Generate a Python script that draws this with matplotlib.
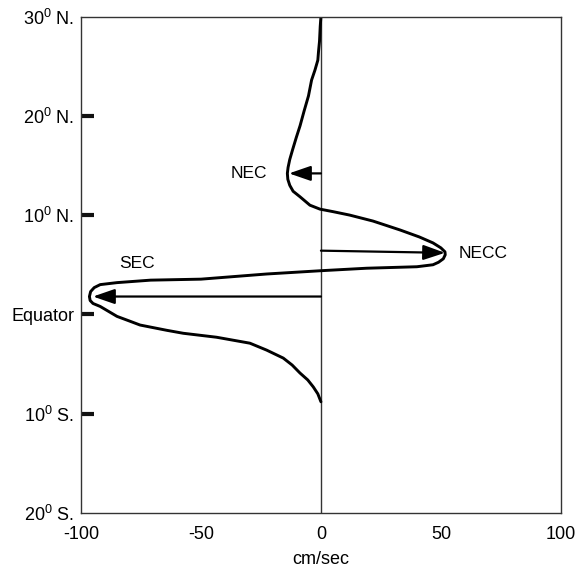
import matplotlib.pyplot as plt

plt.rcParams['font.family'] = ['Liberation Sans', 'DejaVu Sans']
plt.rcParams['mathtext.fontset'] = 'custom'
plt.rcParams['mathtext.rm'] = 'Liberation Sans'

# Zonal current speed (cm/sec) against latitude (deg, + north)
speed = [0, -0.3, -0.6, -1.0, -1.3, -2.5, -3.9, -5.2, -7, -8.7, -10.3, -11.8,
         -13, -13.7, -14, -13.8, -13, -11.6, -8.75, -4.6,
         -0.4, 5, 12, 21.7, 33, 41, 46.7, 50, 51.7, 51.8, 51, 49, 46.7, 40, 19, 0,
         -22.6, -50, -71, -85, -92, -94.5, -96, -96.5, -96.2, -95, -92, -88.5,
         -85, -80, -75.4, -64.3, -57.4, -43.5, -29.6, -22.6, -15.7, -12, -8.75,
         -5.5, -3.2, -1.3, 0]
lat = [30, 29, 27.5, 26.5, 25.6, 24.6, 23.6, 22, 20.5, 19, 17.8, 16.6,
       15.6, 14.8, 14.2, 13.6, 13.0, 12.4, 11.85, 11.0,
       10.6, 10.35, 10.0, 9.4, 8.5, 7.8, 7.2, 6.7, 6.3, 6.0, 5.6, 5.25, 5.0, 4.8, 4.65, 4.4,
       4.07, 3.55, 3.45, 3.2, 3.0, 2.7, 2.3, 1.8, 1.4, 1.1, 0.8, 0.3,
       -0.2, -0.65, -1.07, -1.6, -1.9, -2.3, -2.9, -3.6, -4.4, -5.1, -5.9,
       -6.6, -7.3, -8.0, -8.8]

# Current labels: name, arrow start, arrow tip, label position
currents = ['NEC', 'NECC', 'SEC']
arrow_start = [(0, 14.2), (0, 6.42), (0, 1.8)]
arrow_tip = [(-13.3, 14.2), (51.7, 6.2), (-95, 1.8)]
label_pos = [(-30, 14.2), (67.4, 6.15), (-76.8, 5.1)]

x_ticks = [-100, -50, 0, 50, 100]
x_labels = ['-100', '-50', '0', '50', '100']
y_ticks = [30, 20, 10, 0, -10, -20]
y_labels = [r'$\mathregular{30^0}$ N.', r'$\mathregular{20^0}$ N.',
            r'$\mathregular{10^0}$ N.', 'Equator',
            r'$\mathregular{10^0}$ S.', r'$\mathregular{20^0}$ S.']

fig = plt.figure(figsize=(5.8, 5.73), dpi=100)
ax = fig.add_axes([0.1397, 0.1047, 0.8273, 0.8665])

ax.axvline(0, color='#333333', lw=1)
ax.plot(speed, lat, color='black', lw=2.1, solid_capstyle='round',
        solid_joinstyle='round')

for name, s, t, p in zip(currents, arrow_start, arrow_tip, label_pos):
    ax.annotate('', xy=t, xytext=s,
                arrowprops=dict(arrowstyle='-|>,head_length=1.1,head_width=0.38',
                                mutation_scale=12, lw=1.6, color='black',
                                shrinkA=0, shrinkB=0))
    ax.text(p[0], p[1], name, ha='center', va='center', fontsize=12.5)

ax.set_xlim(-100, 100)
ax.set_ylim(-20, 30)
ax.set_xticks(x_ticks)
ax.set_xticklabels(x_labels, fontsize=13)
ax.set_yticks(y_ticks)
ax.set_yticklabels(y_labels, fontsize=13)
ax.tick_params(axis='x', length=0, pad=9)
ax.tick_params(axis='y', direction='in', length=9, width=3, color='#111111', pad=5)
ax.yaxis.get_major_ticks()[0].tick1line.set_visible(False)
ax.yaxis.get_major_ticks()[-1].tick1line.set_visible(False)
ax.set_xlabel('cm/sec', fontsize=13, labelpad=6)

for sp in ax.spines.values():
    sp.set_color('#333333')
    sp.set_linewidth(1)

plt.savefig('out.png', dpi=100)
